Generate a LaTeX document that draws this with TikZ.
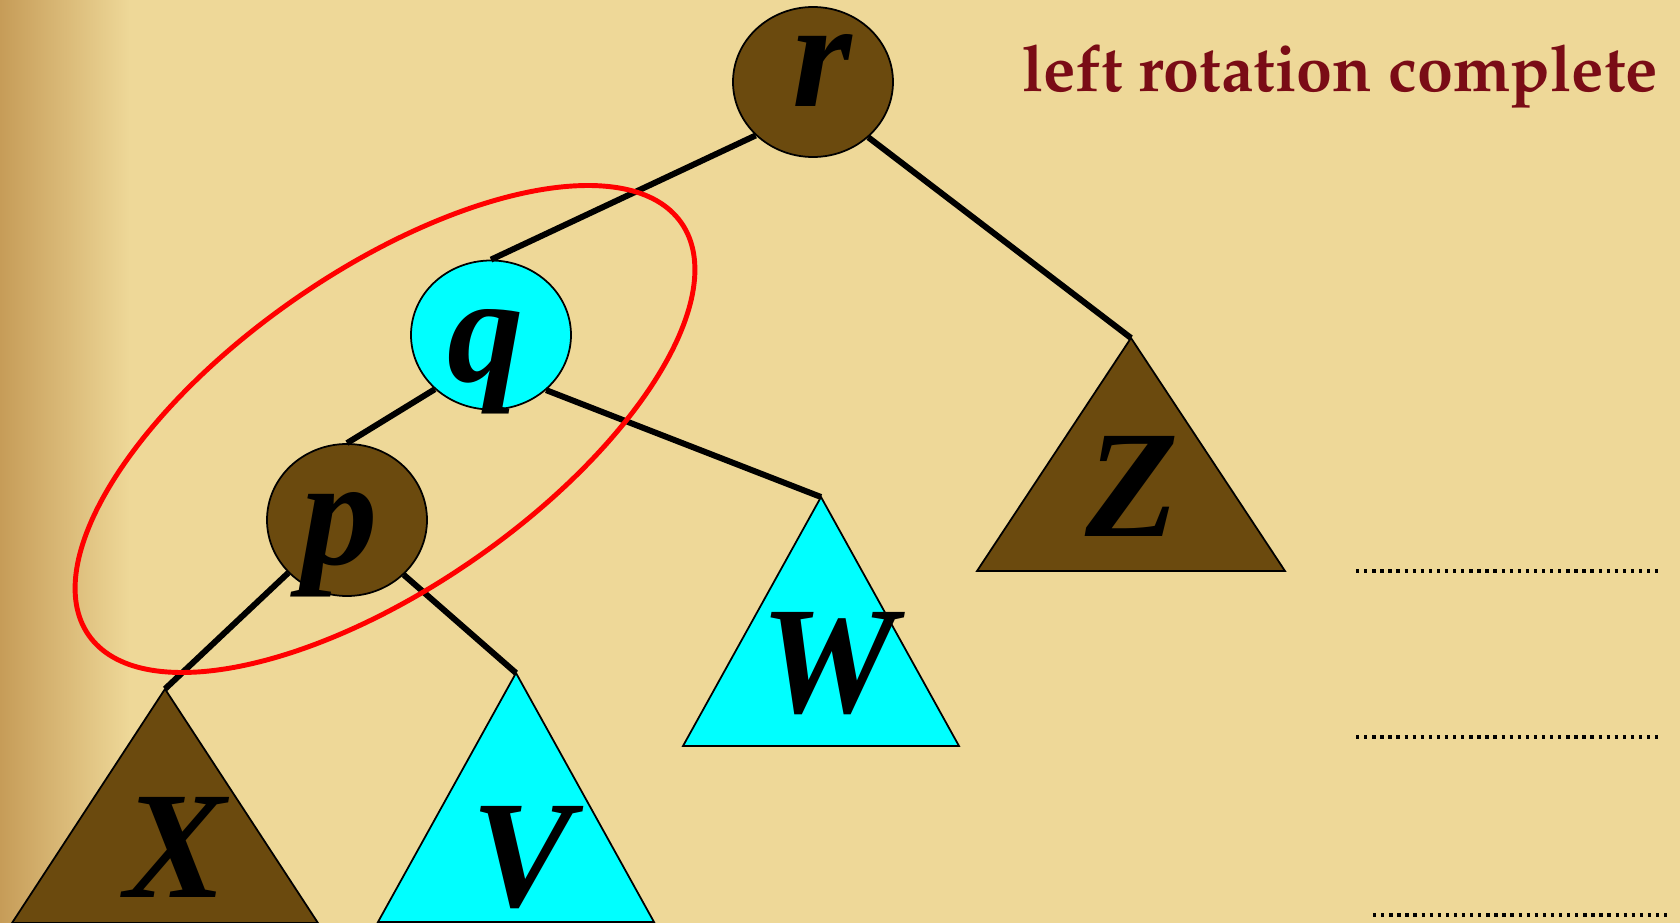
\documentclass[tikz,border=0pt]{standalone}
\usepackage[T1]{fontenc}
\usepackage{fontspec}
\setmainfont{Liberation Serif}
\usetikzlibrary{shapes.geometric}
\definecolor{parchment}{RGB}{238,216,152}
\definecolor{parchdark}{RGB}{198,156,88}
\definecolor{parchorange}{RGB}{228,184,112}
\definecolor{treebrown}{RGB}{107,74,14}
\definecolor{treecyan}{RGB}{0,255,255}
\definecolor{maroon}{RGB}{122,12,22}
\tikzset{
  tnode/.style={draw=black, line width=0.5pt, ellipse, fill=#1, inner sep=0pt, minimum width=16mm, minimum height=15mm},
  tnode/.default={treebrown},
  subtree/.style={draw=black, line width=0.5pt, fill=#1},
  letter/.style={font=\fontsize{43.5pt}{44pt}\selectfont\bfseries\itshape, inner sep=0pt, anchor=base},
  link/.style={line width=1.7pt, draw=black},
  grouping/.style={draw=red, line width=1.4pt, ellipse, inner sep=0pt},
  dotline/.style={line width=0.95pt, dash pattern=on 0.95pt off 1.35pt},
  heading/.style={font=\fontencoding{T1}\fontfamily{ppl}\fontseries{b}\fontsize{18.4pt}{22pt}\selectfont, text=maroon, inner sep=0pt, anchor=base}
}
\begin{document}
\begin{tikzpicture}[x=0.1mm, y=-0.1mm]
  \useasboundingbox (0,0) rectangle (1680,923);
  \clip (0,0) rectangle (1680,923);
  \fill[parchment] (0,0) rectangle (1680,923);
  \shade[left color=parchdark, middle color=parchorange, right color=parchment] (0,0) rectangle (130,923);
  % subtrees
  \foreach \n/\x/\y/\w/\h/\c in {Z/1131/338/154/233/treebrown, W/821/497/138/249/treecyan, X/165/689/153/234/treebrown, V/516/673/138/249/treecyan}{
    \coordinate (\n) at (\x,\y);
    \draw[subtree=\c] (\n) -- ++(\w,\h) -- ++(-2*\w,0) -- cycle;
  }
  % tree nodes
  \node[tnode] (r) at (813,82) {};
  \node[tnode=treecyan, minimum height=14.9mm] (q) at (491,335) {};
  \node[tnode, minimum height=15.2mm] (p) at (347,520) {};
  \draw[link] (r.223) -- (q.north);
  \draw[link] (r.-45) -- (Z);
  \draw[link] (q.224) -- (p.north);
  \draw[link] (q.-45) -- (W);
  \draw[link] (p.222) -- (X);
  \draw[link] (p.-44) -- (V);
  % letters
  \foreach \n/\x/\y in {r/822/107, q/486/382, p/340/565, Z/1132/537, W/828/713, X/175/897, V/522/907}
    \node[letter] (\n lbl) at (\x,\y) {\n};
  \node[grouping, minimum width=72.2mm, minimum height=31.6mm, rotate=34.8] (pq) at (385,429) {};
  \node[heading] (title) at (1340,92) {left rotation complete};
  \foreach \y/\a/\b in {571/1356/1662, 737/1356/1662, 915/1373/1672}
    \draw[dotline] (\a,\y) -- (\b,\y);
\end{tikzpicture}
\end{document}
